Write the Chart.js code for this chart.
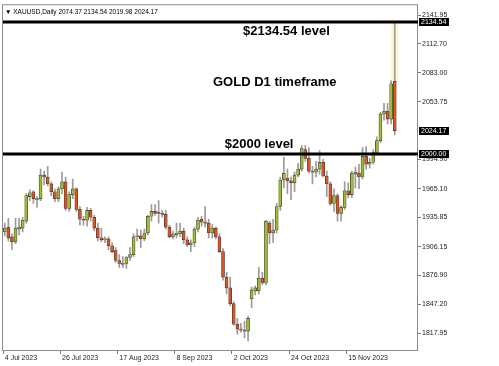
<!DOCTYPE html>
<html>
<head>
<meta charset="utf-8">
<script src="https://cdn.jsdelivr.net/npm/chart.js@4/dist/chart.umd.min.js"></script>
<style>
	html, body { margin: 0; padding: 0; background: #fff; }
	canvas { display: block; }
</style>
</head>
<body>
<canvas id="gold-chart" width="499" height="366"></canvas>
<script>
// daily XAUUSD candles, 4 Jul 2023 .. 4 Dec 2023 (one per weekday)
const open_prices = [
	1921, 1926, 1916, 1911, 1924, 1925, 1932, 1957, 1962, 1954,
	1955, 1979, 1977, 1970, 1962, 1955, 1965, 1972, 1945, 1959,
	1965, 1944, 1934, 1933, 1943, 1936, 1925, 1915, 1913, 1914,
	1907, 1902, 1892, 1888, 1889, 1895, 1898, 1916, 1917, 1914,
	1920, 1937, 1942, 1941, 1940, 1939, 1926, 1916, 1918, 1919,
	1922, 1913, 1908, 1910, 1924, 1934, 1931, 1930, 1920, 1925,
	1916, 1901, 1875, 1864, 1848, 1827, 1822, 1821, 1820, 1853,
	1861, 1861, 1874, 1869, 1930, 1920, 1923, 1947, 1974, 1976,
	1973, 1971, 1979, 1985, 2005, 1996, 1983, 1982, 1985, 1992,
	1978, 1970, 1950, 1958, 1940, 1946, 1963, 1959, 1980, 1981,
	1977, 1998, 1990, 1992, 2002, 2014, 2041, 2044, 2036, 2074.37
];
const high_prices = [
	1930, 1935, 1919, 1935, 1935, 1936, 1960, 1964, 1963, 1957,
	1985, 1983, 1988, 1972, 1965, 1967, 1982, 1977, 1962, 1975,
	1966, 1947, 1937, 1946, 1945, 1938, 1930, 1925, 1916, 1916,
	1910, 1905, 1898, 1896, 1896, 1905, 1919, 1924, 1923, 1924,
	1938, 1949, 1949, 1953, 1943, 1943, 1928, 1922, 1930, 1930,
	1925, 1916, 1913, 1926, 1936, 1937, 1947, 1934, 1929, 1926,
	1919, 1904, 1880, 1875, 1850, 1833, 1828, 1830, 1835, 1865,
	1866, 1885, 1880, 1933, 1932, 1934, 1950, 1977, 1997, 1985,
	1977, 1982, 1991, 2009, 2009, 2007, 1988, 1993, 2004, 1995,
	1983, 1972, 1965, 1960, 1948, 1972, 1971, 1983, 1987, 1990,
	2007, 2008, 1996, 2005, 2018, 2043, 2052, 2052, 2075, 2134.54
];
const low_prices = [
	1917, 1912, 1903, 1909, 1918, 1921, 1930, 1953, 1950, 1946,
	1953, 1969, 1968, 1958, 1952, 1952, 1960, 1943, 1942, 1955,
	1942, 1928, 1928, 1927, 1932, 1922, 1912, 1911, 1910, 1903,
	1900, 1890, 1885, 1885, 1884, 1892, 1896, 1912, 1905, 1912,
	1918, 1932, 1938, 1930, 1936, 1924, 1915, 1914, 1915, 1916,
	1909, 1906, 1901, 1906, 1921, 1927, 1926, 1915, 1915, 1914,
	1900, 1872, 1858, 1846, 1826, 1817, 1819, 1813, 1810, 1844,
	1857, 1858, 1867, 1867, 1909, 1910, 1920, 1943, 1966, 1960,
	1954, 1962, 1977, 1983, 1993, 1981, 1970, 1977, 1980, 1977,
	1957, 1948, 1942, 1932, 1932, 1944, 1956, 1956, 1966, 1965,
	1975, 1985, 1986, 1990, 2000, 2012, 2035, 2031, 2031, 2019.98
];
const close_prices = [
	1925, 1915, 1911, 1925, 1926, 1933, 1958, 1961, 1955, 1955,
	1979, 1977, 1970, 1962, 1955, 1965, 1972, 1945, 1959, 1965,
	1944, 1934, 1933, 1943, 1936, 1925, 1915, 1913, 1914, 1907,
	1901, 1892, 1889, 1889, 1895, 1898, 1916, 1917, 1914, 1920,
	1937, 1942, 1940, 1940, 1939, 1926, 1916, 1919, 1920, 1922,
	1913, 1908, 1910, 1924, 1933, 1931, 1930, 1920, 1925, 1916,
	1901, 1875, 1864, 1848, 1827, 1822, 1821, 1820, 1833, 1862,
	1864, 1874, 1869, 1932, 1920, 1923, 1947, 1974, 1981, 1973,
	1971, 1979, 1985, 2006, 1996, 1983, 1982, 1985, 1992, 1978,
	1970, 1950, 1958, 1940, 1946, 1963, 1959, 1981, 1982, 1977,
	1998, 1990, 1992, 2002, 2014, 2041, 2044, 2036, 2072, 2024.17
];

const first_day = "2023-07-04";
const empty_slots = 6; // free space right of the last candle
const date_ticks = ["4 Jul 2023", "26 Jul 2023", "17 Aug 2023", "8 Sep 2023", "2 Oct 2023", "24 Oct 2023", "15 Nov 2023"];
const price_ticks = [2141.95, 2112.70, 2083.00, 2053.75, 1994.90, 1965.10, 1935.85, 1906.15, 1876.90, 1847.20, 1817.95];
const level_prices = [2134.54, 2000.00];
const notes = [
	{ text: "$2134.54 level", at: 66.6, price: 2124.8 },
	{ text: "GOLD D1 timeframe", at: 58.2, price: 2073.3 },
	{ text: "$2000 level", at: 61.5, price: 2010.7 }
];

const months = ["Jan", "Feb", "Mar", "Apr", "May", "Jun", "Jul", "Aug", "Sep", "Oct", "Nov", "Dec"];
const chart_elem = document.getElementById("gold-chart");

let weekday_labels = (start, count) => {
	const out = [];
	const d = new Date(start + "T00:00:00Z");
	while (out.length < count) {
		const wd = d.getUTCDay();
		if (wd !== 0 && wd !== 6) {
			out.push(`${d.getUTCDate()} ${months[d.getUTCMonth()]} ${d.getUTCFullYear()}`);
		}
		d.setUTCDate(d.getUTCDate() + 1);
	}
	return out;
}

const last = close_prices.length - 1;
const labels = weekday_labels(first_day, close_prices.length + empty_slots);
const font_small = { family: "Liberation Sans", size: 7 };

const overlay = {
	id: "overlay",
	afterDatasetsDraw(chart) {
		const ctx = chart.ctx;
		const area = chart.chartArea;
		const x = chart.scales.x;
		const y = chart.scales.y;

		ctx.save();
		// plot frame
		ctx.strokeStyle = "#8c8c8c";
		ctx.lineWidth = 1;
		ctx.strokeRect(area.left - 0.5, area.top - 0.5, area.right - area.left, area.bottom - area.top + 1);

		// level lines
		ctx.strokeStyle = "#000";
		ctx.lineWidth = 3;
		level_prices.forEach((p) => {
			const py = Math.round(y.getPixelForValue(p));
			ctx.beginPath();
			ctx.moveTo(area.left, py);
			ctx.lineTo(area.right, py);
			ctx.stroke();
		});

		// notes
		ctx.fillStyle = "#000";
		ctx.font = "bold 13px 'Liberation Sans'";
		ctx.textBaseline = "middle";
		ctx.textAlign = "left";
		notes.forEach((n) => {
			ctx.fillText(n.text, x.getPixelForValue(n.at), y.getPixelForValue(n.price));
		});

		// caption
		ctx.font = "6.5px 'Liberation Sans'";
		ctx.fillText(`\u25BC XAUUSD,Daily ${open_prices[last].toFixed(2)} ${high_prices[last].toFixed(2)} ${low_prices[last].toFixed(2)} ${close_prices[last].toFixed(2)}`, area.left + 2, area.top + 7);
		ctx.restore();
	},
	afterDraw(chart) {
		const ctx = chart.ctx;
		const area = chart.chartArea;
		const y = chart.scales.y;
		ctx.save();
		ctx.font = "7px 'Liberation Sans'";
		ctx.textBaseline = "middle";
		ctx.textAlign = "left";
		[level_prices[0], close_prices[last], level_prices[1]].forEach((p) => {
			const py = Math.round(y.getPixelForValue(p));
			ctx.fillStyle = "#000";
			ctx.fillRect(area.right + 1, py - 4, 30, 8);
			ctx.fillStyle = "#fff";
			ctx.fillText(p.toFixed(2), area.right + 3, py + 0.5);
		});
		ctx.restore();
	}
};

const config = {
	type: "bar",
	data: {
		labels: labels,
		datasets: [
			{
				label: "spike",
				data: close_prices.map((c, i) => (i === last ? [Math.max(open_prices[i], c), high_prices[i]] : null)),
				backgroundColor: "#fcf7d2",
				barThickness: 7,
				order: 3
			},
			{
				label: "wick",
				data: close_prices.map((c, i) => [low_prices[i], high_prices[i]]),
				backgroundColor: "#9b9b9b",
				barThickness: 1,
				order: 2
			},
			{
				label: "body",
				data: close_prices.map((c, i) => [open_prices[i], c]),
				backgroundColor: close_prices.map((c, i) => (c >= open_prices[i] ? "#a2bd2c" : "#e0531d")),
				borderColor: "#3d3d3d",
				borderWidth: 0.7,
				borderSkipped: false,
				barThickness: 3,
				minBarLength: 1,
				order: 1
			}
		]
	},
	options: {
		responsive: false,
		animation: false,
		devicePixelRatio: 1,
		datasets: { bar: { grouped: false } },
		layout: { padding: { left: 3, top: 2, right: 0, bottom: 0 } },
		plugins: {
			legend: { display: false },
			tooltip: { enabled: false }
		},
		scales: {
			x: {
				offset: true,
				border: { display: false },
				grid: {
					drawOnChartArea: false,
					offset: true,
					tickLength: 4,
					color: (c) => (c.tick && date_ticks.includes(c.tick.label) ? "#777" : "rgba(0,0,0,0)")
				},
				ticks: {
					autoSkip: false,
					maxRotation: 0,
					minRotation: 0,
					align: "start",
					padding: 0,
					color: "#222",
					font: font_small,
					callback: function (value) {
						const lab = this.getLabelForValue(value);
						return date_ticks.includes(lab) ? lab : "";
					}
				},
				afterFit: (scale) => { scale.height = 16; }
			},
			y: {
				position: "right",
				min: 1800.8,
				max: 2152,
				border: { display: false },
				grid: { drawOnChartArea: false, tickLength: 3, color: "#777" },
				afterBuildTicks: (scale) => { scale.ticks = price_ticks.map((v) => ({ value: v })); },
				ticks: {
					padding: 1,
					color: "#222",
					font: font_small,
					callback: (v) => v.toFixed(2)
				},
				afterFit: (scale) => { scale.width = 81; }
			}
		}
	},
	plugins: [overlay]
};

new Chart(chart_elem, config);
</script>
</body>
</html>
